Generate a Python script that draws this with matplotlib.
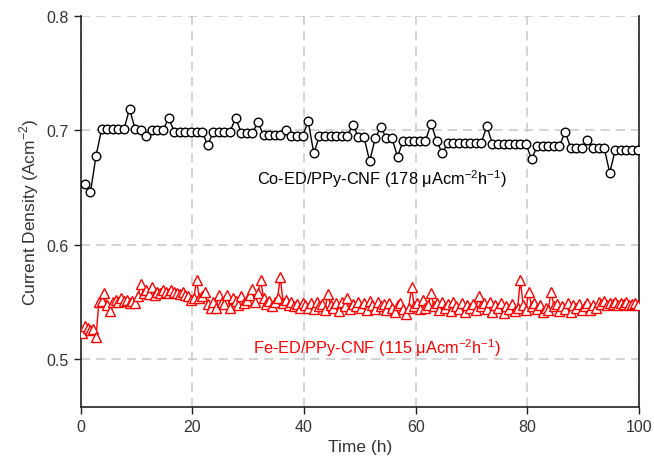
import matplotlib
matplotlib.use("Agg")
import matplotlib.pyplot as plt
import numpy as np

plt.rcParams.update({
    "font.family": ["Liberation Sans", "DejaVu Sans"],
    "font.size": 11,
    "mathtext.fontset": "custom",
    "mathtext.rm": "Liberation Sans",
})

# Co-ED/PPy-CNF, sampled about once an hour
co_time = np.arange(0.75, 100, 1.0)
co_val = [0.653, 0.646, 0.678, 0.701, 0.701, 0.701, 0.701, 0.701, 0.719, 0.701,
          0.700, 0.695, 0.700, 0.700, 0.700, 0.711, 0.699, 0.699, 0.699, 0.699,
          0.699, 0.699, 0.687, 0.699, 0.699, 0.699, 0.699, 0.711, 0.698, 0.698,
          0.698, 0.707, 0.696, 0.696, 0.696, 0.696, 0.700, 0.695, 0.695, 0.695,
          0.708, 0.680, 0.695, 0.695, 0.695, 0.695, 0.695, 0.695, 0.705, 0.694,
          0.694, 0.673, 0.693, 0.703, 0.693, 0.693, 0.677, 0.691, 0.691, 0.691,
          0.691, 0.691, 0.706, 0.691, 0.680, 0.689, 0.689, 0.689, 0.689, 0.689,
          0.689, 0.689, 0.704, 0.688, 0.688, 0.688, 0.688, 0.688, 0.688, 0.688,
          0.675, 0.686, 0.686, 0.686, 0.686, 0.686, 0.699, 0.685, 0.685, 0.685,
          0.692, 0.685, 0.685, 0.685, 0.663, 0.683, 0.683, 0.683, 0.683, 0.683]

# Fe-ED/PPy-CNF, sampled about every half hour (10 h per block)
fe_00 = [0.523, 0.529, 0.527, 0.525, 0.526, 0.519, 0.550, 0.551, 0.558, 0.547,
         0.542, 0.550, 0.552, 0.550, 0.553, 0.551, 0.552, 0.549, 0.551, 0.549]
fe_10 = [0.555, 0.566, 0.558, 0.560, 0.557, 0.563, 0.556, 0.559, 0.558, 0.560,
         0.559, 0.558, 0.560, 0.559, 0.558, 0.557, 0.559, 0.556, 0.555, 0.552]
fe_20 = [0.553, 0.569, 0.553, 0.555, 0.559, 0.548, 0.545, 0.550, 0.545, 0.556,
         0.550, 0.548, 0.556, 0.545, 0.553, 0.551, 0.547, 0.555, 0.549, 0.552]
fe_30 = [0.556, 0.561, 0.550, 0.558, 0.569, 0.553, 0.548, 0.551, 0.546, 0.550,
         0.553, 0.572, 0.549, 0.552, 0.547, 0.550, 0.546, 0.548, 0.545, 0.549]
fe_40 = [0.547, 0.545, 0.549, 0.544, 0.550, 0.546, 0.548, 0.543, 0.557, 0.547,
         0.545, 0.549, 0.542, 0.550, 0.546, 0.553, 0.544, 0.548, 0.546, 0.550]
fe_50 = [0.545, 0.549, 0.543, 0.551, 0.547, 0.544, 0.550, 0.546, 0.548, 0.543,
         0.549, 0.545, 0.541, 0.547, 0.549, 0.544, 0.539, 0.545, 0.563, 0.546]
fe_60 = [0.549, 0.544, 0.552, 0.545, 0.547, 0.558, 0.546, 0.549, 0.543, 0.550,
         0.545, 0.548, 0.542, 0.550, 0.546, 0.544, 0.549, 0.541, 0.547, 0.545]
fe_70 = [0.548, 0.543, 0.555, 0.546, 0.549, 0.544, 0.550, 0.541, 0.547, 0.545,
         0.549, 0.540, 0.546, 0.544, 0.548, 0.542, 0.545, 0.569, 0.547, 0.543]
fe_80 = [0.559, 0.546, 0.549, 0.544, 0.547, 0.541, 0.545, 0.543, 0.559, 0.546,
         0.548, 0.542, 0.546, 0.544, 0.549, 0.541, 0.547, 0.545, 0.548, 0.543]
fe_90 = [0.546, 0.549, 0.543, 0.547, 0.545, 0.550, 0.548, 0.551, 0.547, 0.549,
         0.548, 0.550, 0.547, 0.549, 0.548, 0.550, 0.547, 0.548, 0.549, 0.547]
fe_val = fe_00 + fe_10 + fe_20 + fe_30 + fe_40 + fe_50 + fe_60 + fe_70 + fe_80 + fe_90
fe_time = np.arange(0.25, 100, 0.5)

xticks = [0, 20, 40, 60, 80, 100]
yticks = [0.5, 0.6, 0.7, 0.8]

fig = plt.figure(figsize=(6.54, 4.64), dpi=100)
ax = fig.add_axes([0.1234, 0.1207, 0.8537, 0.8423])

ax.plot(co_time, co_val, "-o", color="black", lw=1, ms=6.2,
        mfc="white", mec="black", mew=1, zorder=4)
ax.plot(fe_time, fe_val, "-^", color="red", lw=1, ms=7.2,
        mfc="white", mec="red", mew=1, zorder=3)

ax.text(54, 0.658, "Co-ED/PPy-CNF (178 \u03bcAcm$^{-2}$h$^{-1}$)",
        ha="center", va="center", fontsize=11.8, color="black")
ax.text(53, 0.5105, "Fe-ED/PPy-CNF (115 \u03bcAcm$^{-2}$h$^{-1}$)",
        ha="center", va="center", fontsize=11.8, color="red")

ax.set_xlim(0, 100)
ax.set_ylim(0.458, 0.8)
ax.set_xticks(xticks)
ax.set_yticks(yticks)
ax.set_yticklabels([f"{v:.1f}" for v in yticks])
ax.grid(True, color="#c8c8c8", ls=(0, (6, 4)), lw=1.1)
ax.set_axisbelow(True)
ax.spines["top"].set_visible(False)
for s in ("left", "right", "bottom"):
    ax.spines[s].set_color("#222222")
    ax.spines[s].set_linewidth(1.2)
ax.tick_params(direction="out", length=5, width=1, colors="#222222",
               labelsize=11.5, labelcolor="#333333")
ax.set_xlabel("Time (h)", fontsize=12.5, color="#333333")
ax.set_ylabel("Current Density (Acm$^{-2}$)", fontsize=12.5, color="#333333")

fig.savefig("out.png", dpi=100)
